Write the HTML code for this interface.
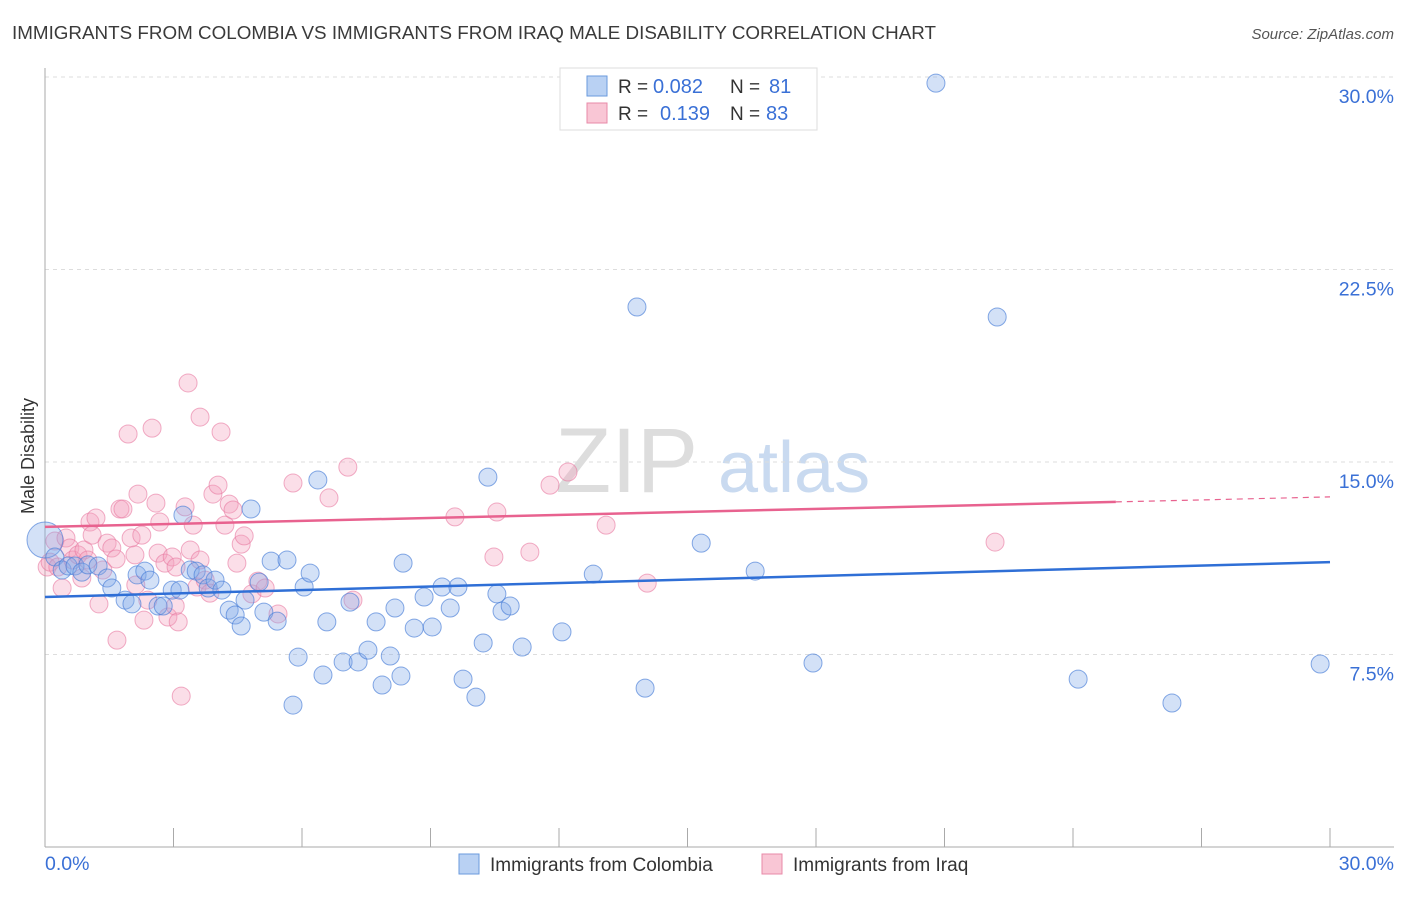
<!DOCTYPE html>
<html><head><meta charset="utf-8"><style>
body{margin:0;background:#fff;font-family:"Liberation Sans",sans-serif;}
svg text{font-family:"Liberation Sans",sans-serif;}
</style></head><body>
<svg id="chart" width="1406" height="892">
<text x="12" y="39" font-size="18" fill="#3a3a3a" textLength="924" lengthAdjust="spacingAndGlyphs">IMMIGRANTS FROM COLOMBIA VS IMMIGRANTS FROM IRAQ MALE DISABILITY CORRELATION CHART</text>
<text x="1394" y="39" font-size="15" fill="#555" text-anchor="end" font-style="italic">Source: ZipAtlas.com</text>
<text x="34" y="456" font-size="18" fill="#333" text-anchor="middle" transform="rotate(-90 34 456)">Male Disability</text>
<g><text x="555" y="492" font-size="92" fill="#ddd" font-family="Liberation Serif">ZIP</text><text x="718" y="492" font-size="72" fill="#c9daf0">atlas</text></g>
<g id="grid"></g><g id="pts"></g><g id="lines"></g>
<g>
<rect x="560" y="68" width="257" height="62" fill="#fff" stroke="#ddd"/>
<rect x="587" y="76" width="20" height="20" fill="#b9d1f3" stroke="#6a9ade"/>
<rect x="587" y="103" width="20" height="20" fill="#f9c6d5" stroke="#e88aa8"/>
<text x="618" y="93" font-size="19" fill="#333">R =</text>
<text x="653" y="93" font-size="20" fill="#3a70d6">0.082</text>
<text x="730" y="93" font-size="19" fill="#333">N =</text>
<text x="769" y="93" font-size="20" fill="#3a70d6">81</text>
<text x="618" y="120" font-size="19" fill="#333">R =</text>
<text x="660" y="120" font-size="20" fill="#3a70d6">0.139</text>
<text x="730" y="120" font-size="19" fill="#333">N =</text>
<text x="766" y="120" font-size="20" fill="#3a70d6">83</text>
</g>
<g>
<rect x="459" y="854" width="20" height="20" fill="#b9d1f3" stroke="#6a9ade"/>
<text x="490" y="871" font-size="19" fill="#333">Immigrants from Colombia</text>
<rect x="762" y="854" width="20" height="20" fill="#f9c6d5" stroke="#e88aa8"/>
<text x="793" y="871" font-size="19" fill="#333">Immigrants from Iraq</text>
</g>
</svg>
<script>
const yTicks=[7.5,15,22.5,30];
const yTickLabels=["7.5%","15.0%","22.5%","30.0%"];
const xTickLabels=["0.0%","30.0%"];
const blueX=[0,.23,.40,.54,.70,.86,1.00,1.24,1.45,1.56,1.87,2.03,2.15,2.33,2.45,2.64,2.76,2.97,3.15,3.22,3.39,3.53,3.69,3.81,3.97,4.13,4.30,4.44,4.58,4.67,4.81,5.00,5.11,5.28,5.42,5.65,5.79,5.91,6.05,6.19,6.37,6.49,6.58,6.96,7.12,7.31,7.54,7.73,7.87,8.06,8.17,8.31,8.36,8.62,8.85,9.04,9.27,9.46,9.64,9.76,10.06,10.23,10.34,10.55,10.67,10.86,11.14,12.07,12.80,13.82,14.01,15.32,16.58,17.93,20.80,22.23,24.12,26.31,29.77];
const blueY=[11.96,11.30,10.79,10.95,10.95,10.71,10.99,10.95,10.48,10.09,9.62,9.47,10.60,10.75,10.40,9.39,9.39,10.01,10.01,12.93,10.79,10.75,10.60,10.09,10.40,10.01,9.23,9.04,8.61,9.62,13.17,10.32,9.15,11.14,8.80,11.18,5.53,7.40,10.13,10.67,14.30,6.70,8.77,7.21,9.54,7.21,7.67,8.77,6.31,7.44,9.31,6.66,11.06,8.53,9.74,8.57,10.13,9.31,10.13,6.54,5.84,7.95,14.41,9.86,9.19,9.39,7.79,8.38,10.63,21.04,6.19,11.84,10.75,7.17,29.76,20.65,6.54,5.61,7.13];
const pinkX=[.05,.12,.23,.30,.40,.49,.58,.65,.77,.86,.91,1.00,1.05,1.10,1.19,1.26,1.35,1.45,1.56,1.66,1.68,1.75,1.82,1.94,2.01,2.10,2.12,2.17,2.26,2.31,2.40,2.50,2.59,2.64,2.68,2.80,2.87,2.97,3.04,3.06,3.11,3.18,3.27,3.34,3.39,3.46,3.55,3.62,3.62,3.74,3.85,3.92,4.04,4.11,4.20,4.30,4.39,4.48,4.58,4.65,4.83,4.97,5.14,5.44,5.79,6.63,7.07,7.19,9.57,10.48,10.55,11.32,11.79,12.21,13.10,14.06,22.18];
const pinkY=[10.91,11.10,11.92,10.91,10.09,12.04,11.65,11.18,11.38,10.48,11.57,11.18,12.66,12.15,12.82,9.47,10.79,11.84,11.65,11.22,8.06,13.17,13.17,16.09,12.04,11.38,10.21,13.75,12.15,8.84,9.62,16.32,13.40,11.45,12.66,11.06,8.96,11.30,9.39,10.91,8.77,5.88,13.25,18.08,11.57,12.54,10.13,16.75,11.18,10.40,9.89,13.75,14.10,16.17,12.54,13.36,13.13,11.06,11.80,12.12,9.86,10.36,10.09,9.08,14.18,13.60,14.80,9.62,12.86,11.30,13.05,11.49,14.10,14.61,12.54,10.28,11.88];
const blueTrend=[9.74,11.10];
const pinkTrend=[12.47,13.64];
const pinkSolidEnd=25;
const NS="http://www.w3.org/2000/svg";
const X=v=>45+v/30*1285, Y=v=>847-v/7.5*192.5;
function mk(t,a,p){const e=document.createElementNS(NS,t);for(const k in a)e.setAttribute(k,a[k]);p.appendChild(e);return e;}
const g=document.getElementById('grid');
yTicks.forEach((t,i)=>{
 const l=mk('line',{x1:45,x2:1394,y1:Y(t),y2:Y(t),stroke:'#ddd','stroke-dasharray':'4 4'},g);
 
 
 const tx=mk('text',{x:1394,y:Y(t)+26,'font-size':19.5,fill:'#3a70d6','text-anchor':'end'},g);
 tx.textContent=yTickLabels[i];
 
 
});
const ax=mk('line',{x1:45,x2:45,y1:68,y2:847,stroke:'#aaa'},g);


const bx=mk('line',{x1:45,x2:1394,y1:847,y2:847,stroke:'#aaa'},g);


for(let i=0;i<=10;i++){const t=mk('line',{x1:X(i*3),x2:X(i*3),y1:828,y2:847,stroke:'#aaa'},g);
 
 }
[[0,'start',45],[30,'end',1394]].forEach((d,i)=>{const t=mk('text',{x:d[2],y:870,'font-size':19.5,fill:'#3a70d6','text-anchor':d[1]},g);t.textContent=xTickLabels[i];
 
 });
const pg=document.getElementById('pts');
pinkX.forEach((x,i)=>{const c=mk('circle',{cx:X(x),cy:Y(pinkY[i]),r:9,fill:'rgba(244,160,188,0.35)',stroke:'rgba(232,120,160,0.6)','stroke-width':1},pg);
 
 });
blueX.forEach((x,i)=>{const c=mk('circle',{cx:X(x),cy:Y(blueY[i]),r:i==0?18:9,fill:'rgba(130,170,232,0.35)',stroke:'rgba(70,125,215,0.65)','stroke-width':1},pg);
 
 });
const lg=document.getElementById('lines');
const bl=mk('line',{x1:X(0),y1:Y(blueTrend[0]),x2:X(30),y2:Y(blueTrend[1]),stroke:'#2f6fd6','stroke-width':2.5},lg);


const pm=pinkTrend[0]+(pinkTrend[1]-pinkTrend[0])*pinkSolidEnd/30;
const pl=mk('line',{x1:X(0),y1:Y(pinkTrend[0]),x2:X(pinkSolidEnd),y2:Y(pm),stroke:'#e8628f','stroke-width':2.5},lg);


const pd=mk('line',{x1:X(pinkSolidEnd),y1:Y(pm),x2:X(30),y2:Y(pinkTrend[1]),stroke:'#e8628f','stroke-width':1.2,'stroke-dasharray':'6 5'},lg);


</script>
</body></html>
